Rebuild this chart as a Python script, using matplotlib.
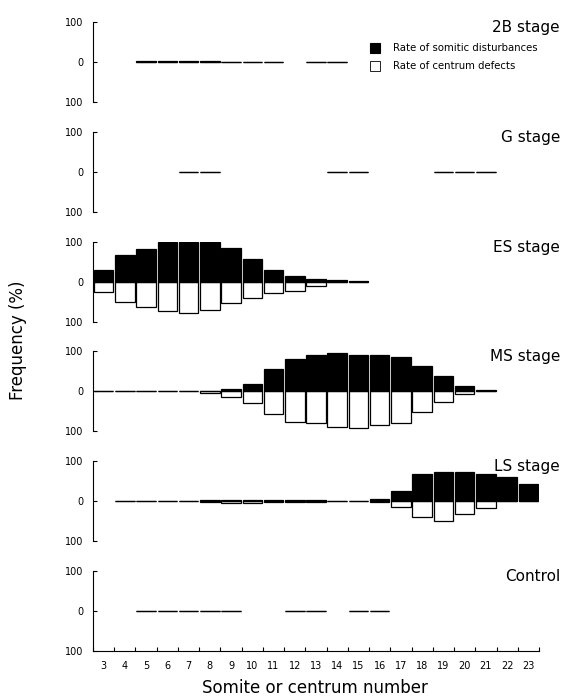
import matplotlib.pyplot as plt
from matplotlib.patches import Patch
import numpy as np

# Somite / centrum numbers on the x axis
somites = list(range(3, 24))

stages = ["2B stage", "G stage", "ES stage", "MS stage", "LS stage", "Control"]

# Rate of somitic disturbances (%), None = no bar drawn
somitic = {
    "2B stage": [None, None, 2, 2, 2, 2, 1, 1, 1, None, 0, 0, None, None, None, None, None, None, None, None, None],
    "G stage": [None, None, None, None, 0, 0, None, None, None, None, None, 0, 0, None, None, None, 0, 0, 0, None, None],
    "ES stage": [30, 66, 81, 98, 98, 98, 85, 56, 30, 15, 7, 3, 1, None, None, None, None, None, None, None, None],
    "MS stage": [2, 1, 1, 1, 0, 2, 5, 18, 55, 81, 92, 95, 92, 92, 85, 64, 38, 13, 3, None, None],
    "LS stage": [None, 1, 1, 1, 1, 3, 3, 3, 3, 2, 2, 0, 1, 6, 26, 68, 74, 73, 67, 60, 43],
    "Control": [None, None, 0, 0, 0, 0, 0, None, None, 0, 0, None, 0, 0, None, None, None, None, None, None, None],
}

# Rate of centrum defects (%), drawn downwards
centrum = {
    "2B stage": [None, None, 0, 0, 0, 0, 0, 0, 0, None, 0, 0, None, None, None, None, None, None, None, None, None],
    "G stage": [None, None, None, None, 0, 0, None, None, None, None, None, 0, 0, None, None, None, 0, 0, 0, None, None],
    "ES stage": [27, 50, 64, 74, 78, 71, 54, 40, 28, 24, 12, 0, 0, None, None, None, None, None, None, None, None],
    "MS stage": [0, 0, 0, 0, 0, 3, 14, 28, 56, 77, 80, 88, 91, 85, 79, 51, 26, 7, 0, None, None],
    "LS stage": [None, 0, 0, 0, 0, 2, 4, 4, 3, 2, 2, 0, 0, 3, 14, 40, 50, 33, 17, 0, 0],
    "Control": [None, None, 0, 0, 0, 0, 0, None, None, 0, 0, None, 0, 0, None, None, None, None, None, None, None],
}

fig = plt.figure(figsize=(5.73, 7.0), dpi=100)

W, H = 573.0, 700.0
left_px, right_px = 93.0, 539.0
top_px = 22.0
panel_h = 80.0
step = 109.8

for i, stage in enumerate(stages):
    top = top_px + i * step
    ax = fig.add_axes([left_px / W, 1 - (top + panel_h) / H,
                       (right_px - left_px) / W, panel_h / H])

    xs = [x for x, v in zip(somites, somitic[stage]) if v is not None]
    up = [v for v in somitic[stage] if v is not None]
    xc = [x for x, v in zip(somites, centrum[stage]) if v is not None]
    down = [-v for v in centrum[stage] if v is not None]

    ax.bar(xc, down, width=0.92, color="white", edgecolor="black", linewidth=0.9)
    ax.bar(xs, up, width=0.92, color="black", edgecolor="black", linewidth=0.9)

    ax.set_xlim(2.5, 23.5)
    ax.set_ylim(-100, 100)
    ax.set_yticks([-100, 0, 100])
    ax.set_yticklabels(["100", "0", "100"])
    ax.tick_params(axis="y", direction="in", length=3, width=0.8, labelsize=7, pad=7)

    for side in ["top", "right"]:
        ax.spines[side].set_visible(False)
    ax.spines["left"].set_linewidth(0.8)

    if stage == "Control":
        ax.spines["bottom"].set_linewidth(0.8)
        ax.set_xticks(somites)
        ax.set_xticks(np.arange(2.5, 24, 1), minor=True)
        ax.tick_params(axis="x", which="major", length=0, labelsize=7, pad=7)
        ax.tick_params(axis="x", which="minor", direction="in", length=3, width=0.8)
    else:
        ax.spines["bottom"].set_visible(False)
        ax.set_xticks([])

    ax.text(1.047, 0.93, stage, transform=ax.transAxes, ha="right", va="center",
            fontsize=11)

    if i == 0:
        handles = [Patch(facecolor="black", edgecolor="black", linewidth=0.8),
                   Patch(facecolor="white", edgecolor="black", linewidth=0.6)]
        ax.legend(handles, ["Rate of somitic disturbances", "Rate of centrum defects"],
                  loc="upper left", bbox_to_anchor=(0.61, 0.8), frameon=False,
                  fontsize=7.3, handlelength=0.95, handleheight=1.1,
                  handletextpad=1.3, labelspacing=0.75, borderpad=0)

fig.text(0.031, 0.514, "Frequency (%)", rotation=90, ha="center", va="center",
         fontsize=12)
fig.text(0.55, 0.017, "Somite or centrum number", ha="center", va="center",
         fontsize=12)

plt.savefig("out.png", dpi=100)
